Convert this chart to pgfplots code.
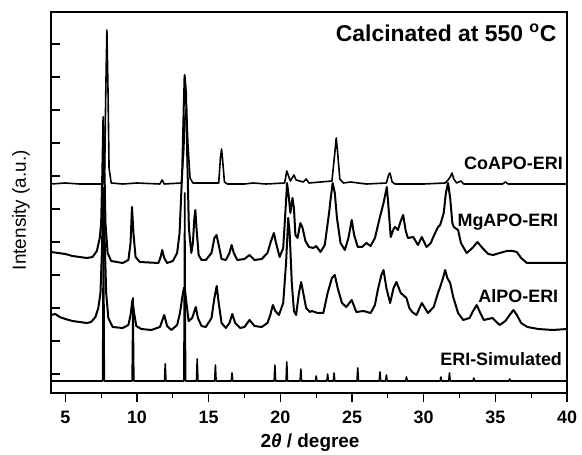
\documentclass[border=0pt]{standalone}
\usepackage{fontspec}
\setmainfont{Liberation Sans}
\usepackage{pgfplots}
\pgfplotsset{compat=1.18}
\begin{document}
\begin{tikzpicture}
\begin{axis}[
  at={(0,0)}, anchor=south west,
  scale only axis, width=516bp, height=381bp,
  xmin=4, xmax=40, ymin=0, ymax=381,
  xtick={5,10,...,40}, minor x tick num=1,
  ytick={19,52,85,118,151,184,217,250,283,316,349},
  yticklabels={},
  tick pos=left, tick align=inside,
  major tick length=9bp, minor tick length=5bp,
  every tick/.style={black, line width=1.3bp},
  major x tick style={yshift=-9bp},
  minor x tick style={yshift=-5bp},
  axis line style={line width=1.6bp},
  /pgf/number format/assume math mode=true,
  xticklabel style={font=\fontsize{18}{18}\selectfont\bfseries, anchor=base, yshift=-30bp},
  xlabel={\textbf{2\textit{θ} / degree}},
  xlabel style={font=\fontsize{19}{19}\selectfont, at={(axis description cs:0.502,-0.129)}, anchor=center},
  ylabel={Intensity (a.u.)},
  ylabel style={font=\fontsize{19}{19}\selectfont, at={(axis description cs:-0.058,0.48)}, anchor=center, rotate=0},
  every axis plot/.append style={black, line join=round, no markers},
]
% CoAPO-ERI
\addplot[line width=1.6bp] coordinates {
(4,209) (5,210) (6,209) (7,209) (7.6,209) (7.75,225) (7.82,300) (7.9,363) (7.98,300) (8.05,225) (8.2,210) (9,209) (10,210)
(11.6,209) (11.75,213) (11.9,209) (13.1,210) (13.25,240) (13.35,275) (13.45,285) (13.55,250) (13.7,215) (13.9,210)
(15.7,210) (15.82,235) (15.9,244) (15.98,232) (16.1,211) (16.3,209) (17.5,209) (18.1,210) (19,209)
(20.3,210) (20.45,222) (20.55,218) (20.7,212) (20.95,218) (21.1,213) (21.6,211) (21.8,214) (22.0,210)
(23.6,212) (23.8,240) (23.9,255) (24.0,240) (24.15,214) (24.4,210) (24.9,211) (26,209)
(27.4,210) (27.55,218) (27.65,220) (27.8,211) (28.0,209) (30,209)
(31.5,210) (31.7,213) (31.85,216) (31.98,220) (32.1,214) (32.3,210) (32.6,212) (32.8,209)
(35.5,209) (35.7,211) (35.9,209) (38,209) (40,209)
};
% MgAPO-ERI
\addplot[line width=2bp] coordinates {
(4,141) (4.5,140) (5,139) (5.5,137) (6,136) (6.5,135) (6.9,136) (7.2,142) (7.4,155) (7.5,170) (7.58,220) (7.65,276) (7.72,230) (7.8,170) (7.95,140) (8.2,132)
(9.0,130) (9.4,133) (9.55,150) (9.65,186) (9.75,160) (9.9,136) (10.2,131) (11.5,130) (11.65,136) (11.76,143) (11.9,135) (12.1,130)
(12.5,132) (12.8,140) (12.97,160) (13.15,220) (13.25,280) (13.32,318) (13.42,300) (13.5,240) (13.62,165) (13.79,140) (13.9,150) (14.0,175) (14.07,183) (14.15,165) (14.3,138) (14.5,133)
(14.8,133) (15.2,140) (15.4,155) (15.55,158) (15.7,148) (15.9,134) (16.2,133) (16.45,140) (16.6,148) (16.75,140) (17.0,133) (17.5,134) (17.85,138) (18.2,133) (18.7,134)
(19.1,140) (19.35,152) (19.55,160) (19.7,150) (19.95,136) (20.2,145) (20.35,180) (20.47,210) (20.6,195) (20.7,180) (20.85,195) (20.95,185) (21.05,158) (21.2,155) (21.4,170) (21.55,165) (21.75,152)
(22.0,146) (22.3,145) (22.5,147) (22.8,141) (23.1,148) (23.4,180) (23.5,193) (23.65,210) (23.8,200) (23.95,175) (24.2,150) (24.5,143) (24.75,155) (24.98,173) (25.15,158) (25.4,146)
(25.7,146) (26.0,150) (26.3,147) (26.6,155) (26.95,176) (27.2,190) (27.43,206) (27.55,185) (27.7,156) (27.9,164) (28.0,166) (28.2,163) (28.4,172) (28.57,178) (28.75,162) (28.9,155)
(29.27,156) (29.6,148) (29.87,156) (30.2,146) (30.5,150) (30.67,156) (31.0,166) (31.15,168) (31.4,180) (31.55,200) (31.7,210) (31.85,195) (32.0,170) (32.1,166) (32.4,163) (32.6,150)
(33.0,140) (33.4,145) (33.75,151) (34.1,145) (34.5,139) (34.85,138) (35.3,140) (35.8,142) (36.2,142) (36.5,141) (36.8,135) (37.2,130) (38,130) (39,130) (40,130)
};
% AlPO-ERI
\addplot[line width=2bp] coordinates {
(4,78) (4.3,79) (4.6,76) (5,74) (5.5,72) (6,71) (6.5,70) (6.8,71) (7.1,76) (7.3,85) (7.45,100) (7.55,140) (7.65,205) (7.75,150) (7.85,100) (8.0,75) (8.3,66)
(9.0,65) (9.4,68) (9.55,78) (9.68,93) (9.8,80) (9.95,67) (10.3,64) (11.0,63) (11.6,66) (11.9,78) (12.1,67) (12.4,63)
(12.8,68) (13.0,80) (13.15,95) (13.27,105) (13.35,103) (13.45,90) (13.6,72) (13.85,75) (14.1,86) (14.25,75) (14.5,67) (14.8,66)
(15.2,75) (15.4,95) (15.56,107) (15.7,90) (15.9,70) (16.2,65) (16.45,70) (16.65,79) (16.85,70) (17.2,65) (17.5,66) (17.85,73) (18.2,67) (18.7,66)
(19.1,70) (19.3,78) (19.48,88) (19.65,82) (19.9,78) (20.2,90) (20.4,130) (20.55,175) (20.65,160) (20.8,110) (20.95,82) (21.1,78) (21.3,100) (21.45,111) (21.6,100) (21.8,85)
(22.06,81) (22.2,82) (22.6,80) (23.0,80) (23.3,100) (23.6,115) (23.8,118) (24.0,105) (24.3,90) (24.6,86) (24.98,93) (25.3,81) (25.8,82) (26.3,80)
(26.6,88) (26.8,103) (27.05,118) (27.2,123) (27.4,105) (27.66,90) (27.9,105) (28.1,111) (28.4,100) (28.8,95) (29.0,85) (29.2,81) (29.5,78) (29.87,90) (30.3,80)
(30.7,86) (31.0,100) (31.15,106) (31.35,115) (31.5,123) (31.65,115) (31.85,110) (32.06,96) (32.4,80) (32.76,73) (33.2,75) (33.45,82) (33.7,88) (33.95,80) (34.2,73)
(34.8,75) (35.3,68) (35.7,72) (36.0,78) (36.26,83) (36.5,78) (36.8,70) (37.24,66) (38,64) (39,63) (40,64)
};
% ERI-Simulated
\addplot[line width=1.6bp] coordinates {
(4,12) (7.6,12) (7.66,190) (7.72,12) (9.66,12) (9.72,95) (9.78,12) (11.92,12) (11.97,29) (12.02,12) (13.27,12) (13.33,200) (13.39,12)
(14.15,12) (14.2,34) (14.25,12) (15.42,12) (15.47,28) (15.52,12) (16.58,12) (16.63,20) (16.68,12) (19.57,12) (19.62,28) (19.67,12)
(20.4,12) (20.45,31) (20.5,12) (21.38,12) (21.43,24) (21.48,12) (22.45,12) (22.5,17) (22.55,12) (23.25,12) (23.3,19) (23.35,12)
(23.7,12) (23.75,20) (23.8,12) (25.35,12) (25.4,25) (25.45,12) (26.9,12) (26.95,21) (27.0,12) (27.35,12) (27.4,18) (27.45,12)
(28.75,12) (28.8,16) (28.85,12) (31.15,12) (31.2,16) (31.25,12) (31.75,12) (31.8,20) (31.85,12) (33.45,12) (33.5,15) (33.55,12)
(35.95,12) (36.0,14) (36.05,12) (40,12)
};
\node[anchor=base east, font=\fontsize{23}{23}\selectfont\bfseries, inner sep=0pt] at (axis cs:39.27,351) {Calcinated at 550 \textsuperscript{o}C};
\node[anchor=base east, font=\fontsize{18}{18}\selectfont\bfseries, inner sep=0pt] at (axis cs:39.72,223) {CoAPO-ERI};
\node[anchor=base east, font=\fontsize{18}{18}\selectfont\bfseries, inner sep=0pt] at (axis cs:39.4,166) {MgAPO-ERI};
\node[anchor=base east, font=\fontsize{18}{18}\selectfont\bfseries, inner sep=0pt] at (axis cs:39.4,90) {AlPO-ERI};
\node[anchor=base east, font=\fontsize{18}{18}\selectfont\bfseries, inner sep=0pt] at (axis cs:39.66,28) {ERI-Simulated};
\end{axis}
\pgfresetboundingbox
\path (-51bp,-62bp) rectangle (531bp,393bp);
\end{tikzpicture}
\end{document}
